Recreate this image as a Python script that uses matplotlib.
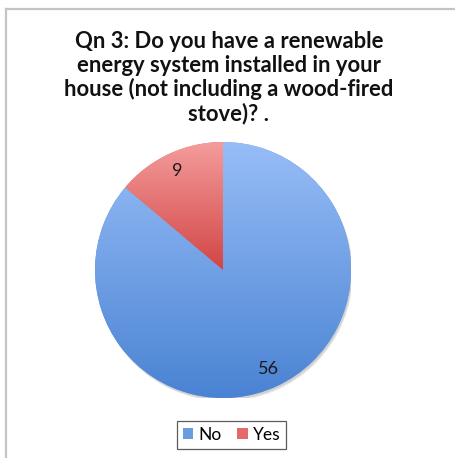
import matplotlib
matplotlib.use("Agg")
import matplotlib.pyplot as plt
from matplotlib.lines import Line2D
from matplotlib.patches import Patch, Circle
from matplotlib.colors import LinearSegmentedColormap
import numpy as np

categories = ["No", "Yes"]
values = [56, 9]
colors = ["#6b9be0", "#e36a6a"]
grad_top = ["#97bdf7", "#f49c9c"]
grad_bottom = ["#4a83d3", "#d24545"]
title = "Qn 3: Do you have a renewable\nenergy system installed in your\nhouse (not including a wood-fired\nstove)? ."

W, H = 455, 458
fig = plt.figure(figsize=(W / 100, H / 100), dpi=100)
fig.patch.set_facecolor("white")

# outer frame (top and left edges)
fig.add_artist(Line2D([5.5 / W, 5.5 / W], [0, 1 - 8.5 / H], color="#c4c4c4", lw=1.6,
                      transform=fig.transFigure))
fig.add_artist(Line2D([5.5 / W, 1], [1 - 8.5 / H, 1 - 8.5 / H], color="#c4c4c4", lw=1.6,
                      transform=fig.transFigure))

cx, cy, r = 223, 270, 128
ax = fig.add_axes([(cx - r) / W, (H - cy - r) / H, 2 * r / W, 2 * r / H])
# soft shadow
for off, a in [(0.025, 0.18), (0.016, 0.25)]:
    ax.add_patch(Circle((off * 0.6, -off), 1.0, facecolor="#888888", edgecolor="none",
                        alpha=a, zorder=0))
wedges, texts, autotexts = ax.pie(
    values, colors=colors, startangle=90, counterclock=False, radius=1,
    autopct=lambda p: f"{round(p * sum(values) / 100):d}", pctdistance=0.85,
    textprops=dict(fontsize=13, color="#1a1a1a", family="Lato"),
    wedgeprops=dict(linewidth=0))
for w, t, b in zip(wedges, grad_top, grad_bottom):
    w.set_zorder(1)
    ext = w.get_path().get_extents(w.get_transform() - ax.transData)
    y0, y1 = ext.y0, ext.y1
    cmap = LinearSegmentedColormap.from_list("g", [b, t])
    grad = np.linspace(0, 1, 256).reshape(-1, 1)
    im = ax.imshow(grad, cmap=cmap, extent=[-1, 1, y0, y1], origin="lower",
                   aspect="auto", zorder=2, interpolation="bilinear")
    im.set_clip_path(w)
for t in autotexts:
    t.set_zorder(5)
ax.set_xlim(-1, 1)
ax.set_ylim(-1, 1)
ax.set_aspect("equal")
ax.axis("off")

fig.text(0.503, 1 - 78 / H, title, ha="center", va="center", fontsize=15.8,
         fontweight="bold", family="Lato", color="#111111", linespacing=1.14)

handles = [Patch(facecolor=c, edgecolor="none") for c in colors]
leg = fig.legend(handles, categories, loc="center", bbox_to_anchor=(231.5 / W, 1 - 435 / H),
                 ncol=2, frameon=True, fancybox=False,
                 prop=dict(family="Lato", size=12.5), handlelength=0.6, handleheight=0.6,
                 handletextpad=0.3, columnspacing=0.9, borderpad=0.35)
leg.get_frame().set_edgecolor("#333333")
leg.get_frame().set_linewidth(0.9)

fig.savefig("out.png", dpi=100)
